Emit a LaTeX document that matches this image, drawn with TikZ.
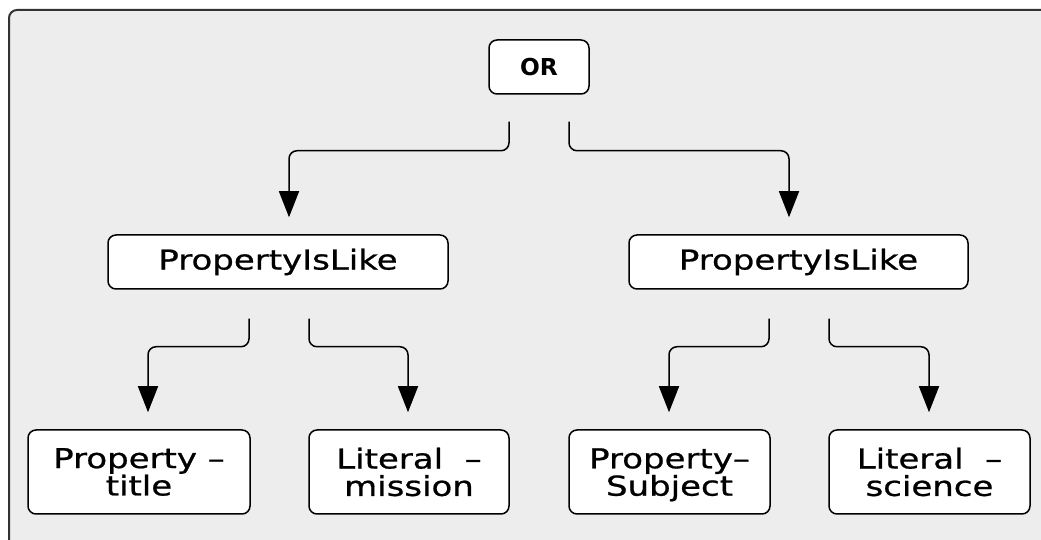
\documentclass[tikz,border=0pt]{standalone}
\usepackage{fontspec}
\usetikzlibrary{arrows.meta}
\newfontfamily\diafont[FakeStretch=1.24,FakeBold=0.8]{DejaVu Sans}
\newfontfamily\orfont{DejaVu Sans}
\definecolor{panelgray}{HTML}{EDEDED}
\definecolor{framegray}{HTML}{333333}
\tikzset{
  box/.style={draw=black, fill=white, line width=1.5pt, rounded corners=8pt,
    inner sep=0pt, align=center, font=\diafont\fontsize{27.4}{27.4}\selectfont},
  link/.style={draw=black, line width=1.5pt, rounded corners=8pt,
    -{Triangle[length=26pt,width=20pt]}}
}
\begin{document}
\begin{tikzpicture}[x=1pt,y=1pt]
                \useasboundingbox (0,0) rectangle (1041,540);
                \draw[fill=panelgray, draw=framegray, line width=2pt, rounded corners=8pt] (9,-12) rectangle (1070,530);

                \node[box, minimum width=100pt, minimum height=54pt, font=\orfont\bfseries\fontsize{23.3}{23.3}\selectfont] (or) at (539,473) {OR};
                \node[box, minimum width=340pt, minimum height=54pt] (likeA) at (278,278) {PropertyIsLike};
                \node[box, minimum width=339pt, minimum height=54pt] (likeB) at (798.5,278) {PropertyIsLike};

                \node[box, minimum width=222pt, minimum height=84pt] (propA) at (139,68) {Property –\\title};
                \node[box, minimum width=200pt, minimum height=84pt] (litA) at (409,68) {Literal\ \ –\\mission};
                \node[box, minimum width=201pt, minimum height=84pt] (propB) at (669.5,68) {Property–\\\smash{Subject}};
                \node[box, minimum width=201pt, minimum height=84pt] (litB) at (929.5,68) {Literal\ \ –\\science};

                \draw[link] ([shift={(-30,-27)}]or.south) -- ++(0,-29) -| ([shift={(11,17)}]likeA.north);
                \draw[link] ([shift={(30,-27)}]or.south) -- ++(0,-29) -| ([shift={(-9.5,17)}]likeB.north);

                \draw[link] ([shift={(-29,-29)}]likeA.south) -- ++(0,-28) -| ([shift={(9,17)}]propA.north);
                \draw[link] ([shift={(31,-29)}]likeA.south) -- ++(0,-28) -| ([shift={(-1,17)}]litA.north);
                \draw[link] ([shift={(-29.5,-29)}]likeB.south) -- ++(0,-28) -| ([shift={(-0.5,17)}]propB.north);
                \draw[link] ([shift={(30.5,-29)}]likeB.south) -- ++(0,-28) -| ([shift={(-0.5,17)}]litB.north);
            \end{tikzpicture}
\end{document}
